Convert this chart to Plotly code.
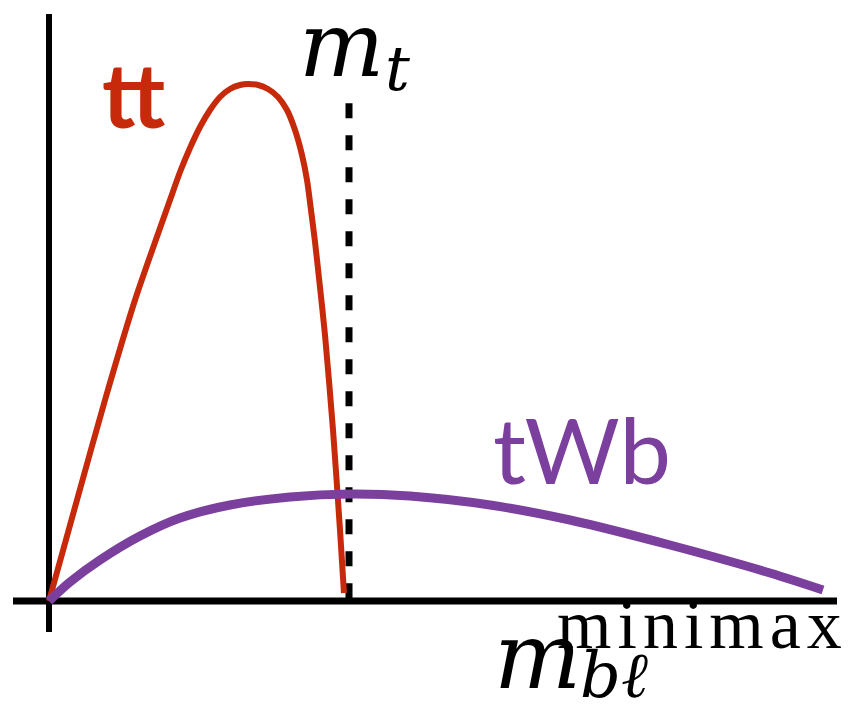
import plotly.graph_objects as go

# Schematic distributions (x in units of m_t, y normalised to tt peak)
tt_x = [0.0, 0.0933, 0.1867, 0.2867, 0.4033, 0.4367, 0.47, 0.5033, 0.5367, 0.57, 0.6033, 0.6367,
        0.6633, 0.6967, 0.73, 0.7633, 0.7933, 0.82, 0.8433, 0.86, 0.8733, 0.8867, 0.9, 0.92,
        0.9467, 0.97, 0.9833]
tt_y = [0.0, 0.1954, 0.3888, 0.5822, 0.7756, 0.8298, 0.8762, 0.9168, 0.9497, 0.9749, 0.9903, 0.9981,
        1.0, 0.9981, 0.9903, 0.9749, 0.9497, 0.911, 0.8627, 0.8143, 0.7563, 0.6944, 0.6248, 0.5145,
        0.3308, 0.1373, 0.0155]

twb_x = [0.0, 0.07, 0.17, 0.3033, 0.4367, 0.6033, 0.8033, 1.0033, 1.2033, 1.47, 1.7367, 2.07,
         2.4033, 2.58]
twb_y = [0.0, 0.0368, 0.0793, 0.1257, 0.1605, 0.1857, 0.2012, 0.207, 0.2031, 0.1857, 0.1567,
         0.1083, 0.0542, 0.0213]

mt_x = [1.0, 1.0]
mt_y = [0.963, 0.0]

RED = "#C62A0A"
PURPLE = "#7B3F9E"

# page body has an 8px margin: figure starts at window pixel 8
OFF = 8
W, H = 850 - OFF, 707 - OFF
X0, XS = 49, 300.0   # window pixel of x=0, pixels per unit
Y0, YS = 601, 517.0  # window pixel of y=0, pixels per unit


def px(p):
    return (p - X0) / XS


def py(p):
    return (Y0 - p) / YS


fig = go.Figure()

fig.add_trace(go.Scatter(x=[0, 0], y=[py(14), py(632)], mode="lines",
                         line=dict(color="black", width=6), hoverinfo="skip"))
fig.add_trace(go.Scatter(x=[px(13), px(837)], y=[0, 0], mode="lines",
                         line=dict(color="black", width=7), hoverinfo="skip"))

fig.add_trace(go.Scatter(x=mt_x, y=mt_y, mode="lines",
                         line=dict(color="black", width=7, dash="15px,17px"), hoverinfo="skip"))

fig.add_trace(go.Scatter(x=tt_x, y=tt_y, mode="lines",
                         line=dict(color=RED, width=6, shape="spline", smoothing=0.7), hoverinfo="skip"))
fig.add_trace(go.Scatter(x=twb_x, y=twb_y, mode="lines",
                         line=dict(color=PURPLE, width=9, shape="spline", smoothing=0.8), hoverinfo="skip"))

MATH = "DejaVu Serif"
ROMAN = "Liberation Serif"
ann = []
ann.append(dict(x=px(133.5), y=py(93), text="<b>tt</b>", font=dict(family="Lato", size=90, color=RED),
                xanchor="center", yanchor="middle"))
ann.append(dict(x=px(582), y=py(448), text="tWb", font=dict(family="Lato", size=92, color=PURPLE),
                xanchor="center", yanchor="middle"))
# m_t
ann.append(dict(x=px(341), y=py(44), text="<i>m</i>",
                font=dict(family=MATH, size=90, color="black"),
                xanchor="center", yanchor="middle"))
ann.append(dict(x=px(397), y=py(68), text="<i>t</i>",
                font=dict(family=MATH, size=62, color="black"),
                xanchor="center", yanchor="middle"))
# m_{b l}^{minimax}
ann.append(dict(x=px(492), y=py(656), text="<i>m</i>",
                font=dict(family=MATH, size=92, color="black"),
                xanchor="left", yanchor="middle"))
ann.append(dict(x=px(578), y=py(675), text="<i>b\u2113</i>",
                font=dict(family=MATH, size=64, color="black"),
                xanchor="left", yanchor="middle"))
ann.append(dict(x=px(555), y=py(624), text='<span style="letter-spacing:6px">minimax</span>',
                font=dict(family=ROMAN, size=70, color="black"),
                xanchor="left", yanchor="middle"))
for a in ann:
    a.update(xref="x", yref="y", showarrow=False)

fig.update_layout(
    width=W, height=H,
    margin=dict(l=0, r=0, t=0, b=0),
    paper_bgcolor="white", plot_bgcolor="white",
    showlegend=False,
    annotations=ann,
    xaxis=dict(range=[px(OFF), px(850)], visible=False, fixedrange=True),
    yaxis=dict(range=[py(707), py(OFF)], visible=False, fixedrange=True),
)

fig.write_html("out.html")
